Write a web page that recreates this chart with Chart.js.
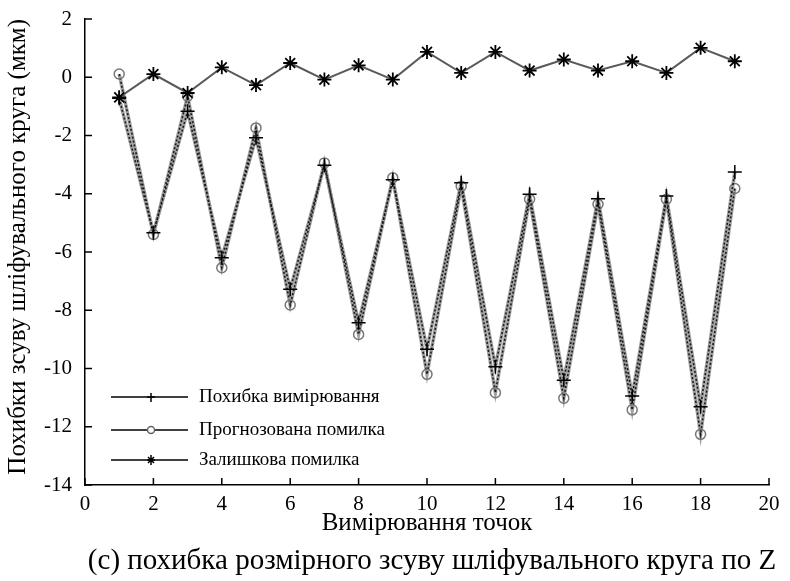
<!DOCTYPE html>
<html>
<head>
<meta charset="utf-8">
<script src="https://cdn.jsdelivr.net/npm/chart.js@4.4.1/dist/chart.umd.min.js"></script>
<style>
  html, body { margin: 0; padding: 0; background: #fff; }
  #wrap { width: 790px; height: 581px; }
</style>
</head>
<body>
<div id="wrap"><canvas id="c" width="790" height="581"></canvas></div>
<script>
const points = [1,2,3,4,5,6,7,8,9,10,11,12,13,14,15,16,17,18,19];
const measured = [-0.72, -5.34, -1.17, -6.2, -2.08, -7.28, -3.02, -8.43, -3.52, -9.34, -3.62, -9.94, -4.02, -10.4, -4.17, -10.94, -4.08, -11.31, -3.25];
const predicted = [0.11, -5.4, -0.65, -6.54, -1.74, -7.82, -2.94, -8.83, -3.45, -10.2, -3.74, -10.83, -4.19, -11.02, -4.36, -11.42, -4.19, -12.26, -3.82];
const residual = [-0.69, 0.11, -0.54, 0.34, -0.27, 0.49, -0.08, 0.41, -0.08, 0.87, 0.15, 0.87, 0.23, 0.61, 0.23, 0.55, 0.15, 1.01, 0.55];
const seriesNames = ['Похибка вимірювання', 'Прогнозована помилка', 'Залишкова помилка'];
const xTitle = 'Вимірювання точок';
const yTitle = 'Похибки зсуву шліфувального круга (мкм)';
const caption = '(c) похибка розмірного зсуву шліфувального круга по Z';

const FONT = '"Liberation Serif", "Times New Roman", serif';
const toXY = arr => arr.map((v, i) => ({x: points[i], y: v}));

// grey halo under the two zigzag lines (gives the hatched look of the original)
const underlayPlugin = {
  id: 'underlay',
  beforeDatasetsDraw(chart) {
    const ctx = chart.ctx;
    ctx.save();
    ctx.strokeStyle = '#a0a0a0';
    ctx.lineWidth = 3.5;
    ctx.lineJoin = 'miter';
    [1, 0].forEach(i => {
      const pts = chart.getDatasetMeta(i).data;
      ctx.beginPath();
      pts.forEach((p, k) => { if (k === 0) ctx.moveTo(p.x, p.y); else ctx.lineTo(p.x, p.y); });
      ctx.stroke();
    });
    ctx.restore();
  }
};

const ticksPlugin = {
  id: 'inwardTicks',
  afterDatasetsDraw(chart) {
    const ctx = chart.ctx;
    const xs = chart.scales.x, ys = chart.scales.y;
    const area = chart.chartArea;
    ctx.save();
    ctx.strokeStyle = '#000';
    ctx.lineWidth = 1.5;
    ctx.beginPath();
    xs.ticks.forEach(t => {
      const px = xs.getPixelForValue(t.value);
      ctx.moveTo(px, area.bottom); ctx.lineTo(px, area.bottom - 7);
    });
    ys.ticks.forEach(t => {
      const py = ys.getPixelForValue(t.value);
      ctx.moveTo(area.left, py); ctx.lineTo(area.left + 7, py);
    });
    ctx.stroke();
    ctx.restore();
  }
};

const legendPlugin = {
  id: 'customLegend',
  afterDraw(chart) {
    const ctx = chart.ctx;
    const rows = [397, 430, 460];
    ctx.save();
    chart.data.datasets.forEach((ds, i) => {
      const y = rows[i];
      ctx.strokeStyle = '#000';
      ctx.lineWidth = 1.5;
      ctx.setLineDash([]);
      ctx.beginPath(); ctx.moveTo(111, y); ctx.lineTo(188, y); ctx.stroke();
      const mx = 151;
      if (i === 0) {
        ctx.beginPath();
        ctx.moveTo(mx - 4, y); ctx.lineTo(mx + 4, y);
        ctx.moveTo(mx, y - 4); ctx.lineTo(mx, y + 5);
        ctx.stroke();
      } else if (i === 1) {
        ctx.strokeStyle = '#666';
        ctx.fillStyle = '#fff';
        ctx.beginPath(); ctx.arc(mx, y, 3.5, 0, Math.PI * 2); ctx.fill(); ctx.stroke();
      } else {
        ctx.beginPath();
        ctx.moveTo(mx - 4, y); ctx.lineTo(mx + 4, y);
        ctx.moveTo(mx, y - 5); ctx.lineTo(mx, y + 5);
        ctx.moveTo(mx - 3, y - 3); ctx.lineTo(mx + 3, y + 3);
        ctx.moveTo(mx - 3, y + 3); ctx.lineTo(mx + 3, y - 3);
        ctx.stroke();
      }
      ctx.fillStyle = '#000';
      ctx.font = '19px ' + FONT;
      ctx.textBaseline = 'middle';
      ctx.textAlign = 'left';
      ctx.fillText(ds.label, 199, y);
    });
    // caption
    ctx.font = '29px ' + FONT;
    ctx.textAlign = 'center';
    ctx.textBaseline = 'middle';
    ctx.fillStyle = '#000';
    ctx.fillText(caption, 432, 561);
    ctx.restore();
  }
};

new Chart(document.getElementById('c'), {
  type: 'line',
  data: {
    datasets: [
      {
        label: seriesNames[0],
        data: toXY(measured),
        borderColor: '#1a1a1a',
        borderWidth: 1.6,
        borderDash: [2, 2],
        pointStyle: 'cross',
        pointRadius: 7,
        pointBorderWidth: 1.5,
        pointBorderColor: '#000',
        pointBackgroundColor: 'rgba(0,0,0,0)',
        order: 2,
        tension: 0
      },
      {
        label: seriesNames[1],
        data: toXY(predicted),
        borderColor: '#1a1a1a',
        borderWidth: 1.6,
        borderDash: [2, 2],
        pointStyle: 'circle',
        pointRadius: 5,
        pointBorderWidth: 1.5,
        pointBorderColor: '#777',
        pointBackgroundColor: 'rgba(255,255,255,0)',
        order: 3,
        tension: 0
      },
      {
        label: seriesNames[2],
        data: toXY(residual),
        borderColor: '#5a5a5a',
        borderWidth: 2,
        pointStyle: 'star',
        pointRadius: 7,
        pointBorderWidth: 1.8,
        pointBorderColor: '#000',
        pointBackgroundColor: 'rgba(0,0,0,0)',
        order: 1,
        tension: 0
      }
    ]
  },
  options: {
    responsive: false,
    animation: false,
    events: [],
    layout: { padding: { top: 19, right: 21, left: 0, bottom: 40 } },
    plugins: {
      legend: { display: false },
      tooltip: { enabled: false },
      title: { display: false }
    },
    scales: {
      x: {
        type: 'linear',
        min: 0, max: 20,
        ticks: { stepSize: 2, color: '#000', font: { family: FONT, size: 21 }, padding: 7 },
        grid: { drawOnChartArea: false, drawTicks: false },
        border: { display: true, color: '#000', width: 1.5 },
        title: { display: true, text: xTitle, color: '#000', font: { family: FONT, size: 25 }, padding: { top: 0, bottom: 3 } },
        afterFit(scale) { scale.height = 56; scale.paddingLeft = 0; scale.paddingRight = 0; }
      },
      y: {
        type: 'linear',
        min: -14, max: 2,
        ticks: { stepSize: 2, color: '#000', font: { family: FONT, size: 21 }, padding: 13 },
        grid: { drawOnChartArea: false, drawTicks: false },
        border: { display: true, color: '#000', width: 1.5 },
        title: { display: true, text: yTitle, align: 'end', color: '#000', font: { family: FONT, size: 25 }, padding: { top: 3, bottom: 0 } },
        afterFit(scale) { scale.width = 85; scale.paddingTop = 0; scale.paddingBottom = 0; }
      }
    }
  },
  plugins: [underlayPlugin, ticksPlugin, legendPlugin]
});
</script>
</body>
</html>
